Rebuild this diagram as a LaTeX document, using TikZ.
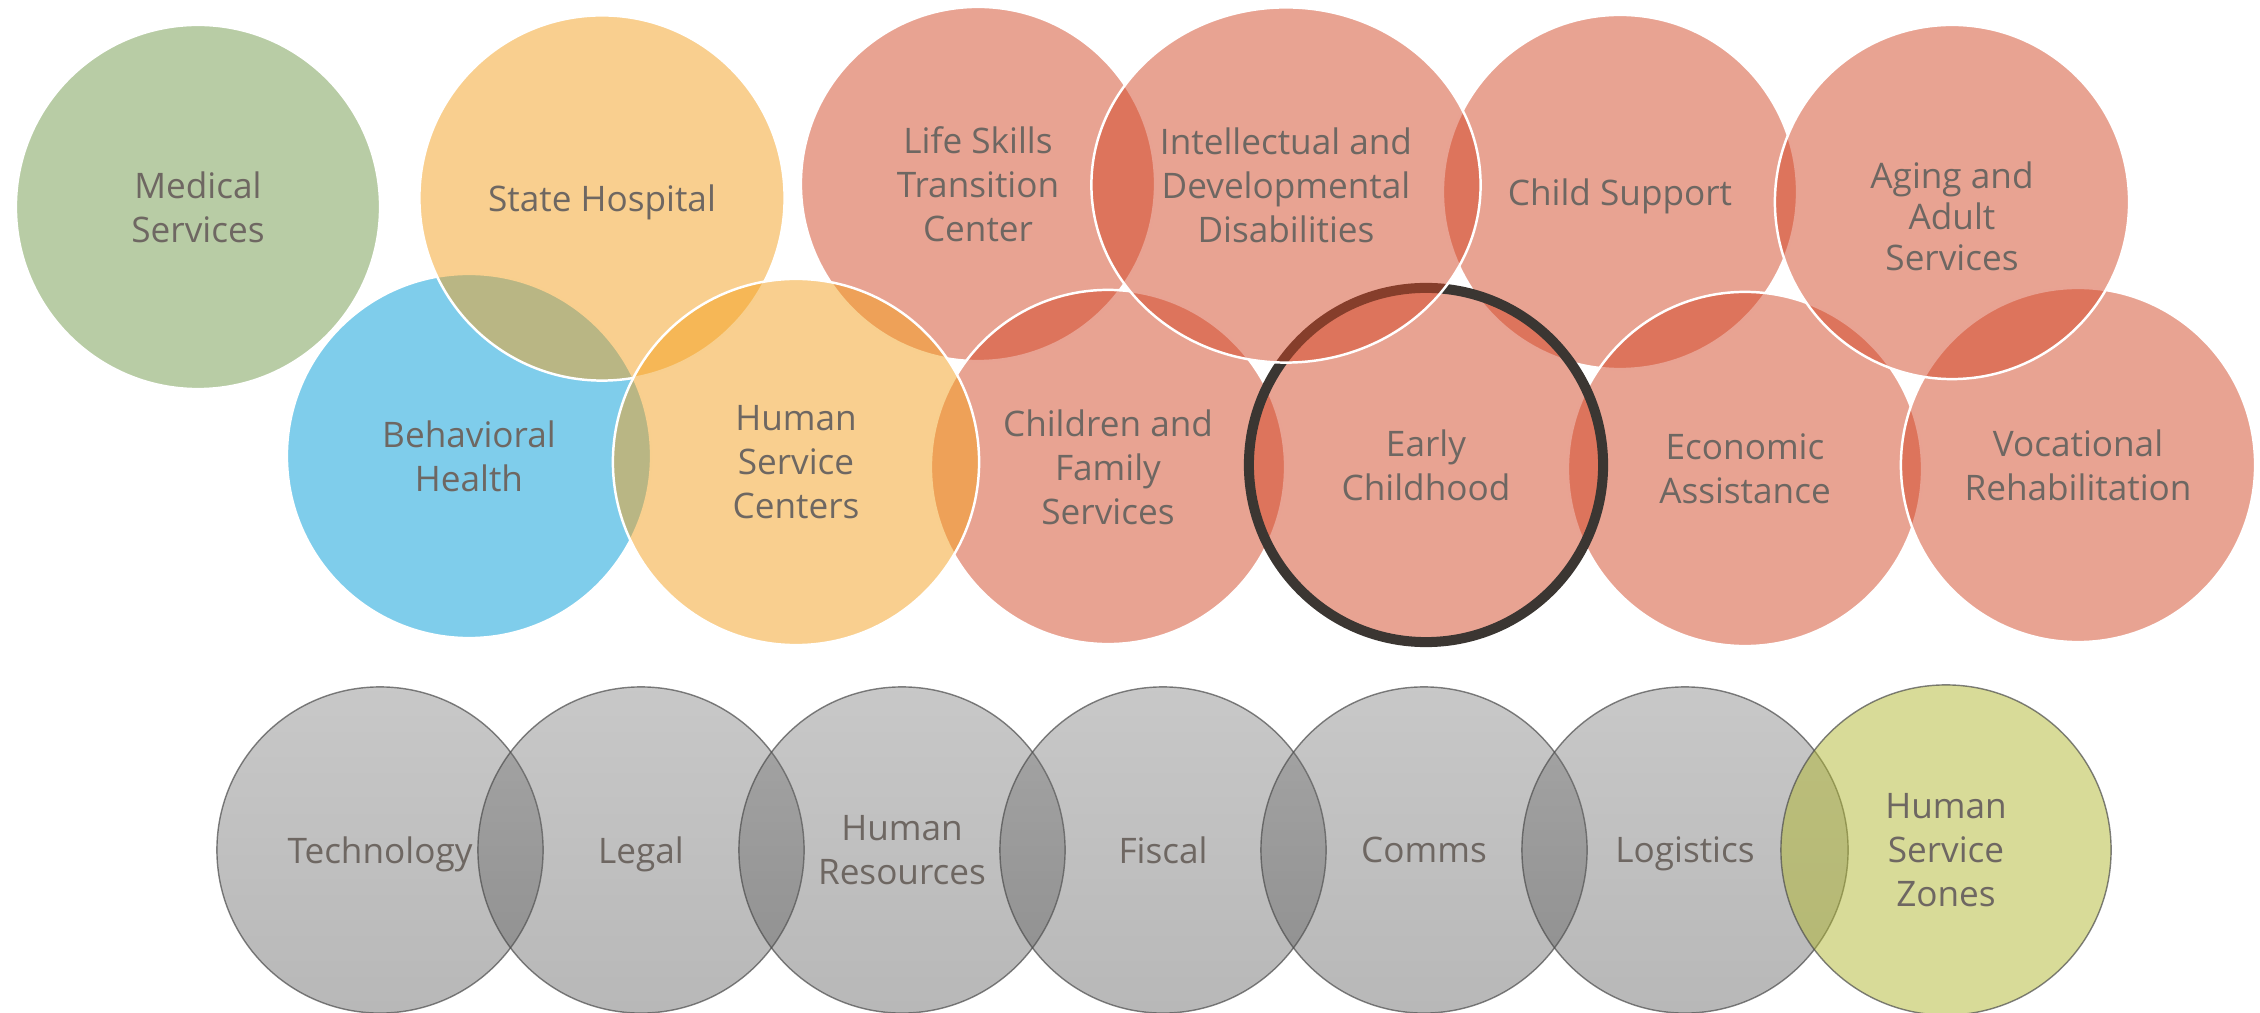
\documentclass[tikz,border=0pt]{standalone}
\usepackage{fontspec}
\setmainfont{Open Sans}
\usetikzlibrary{shapes.geometric}

\definecolor{salmon}{RGB}{210,71,38}
\definecolor{amber}{RGB}{243,160,31}
\definecolor{sky}{RGB}{0,155,215}
\definecolor{sage}{RGB}{113,153,75}
\definecolor{lime}{RGB}{177,183,49}
\definecolor{greytop}{RGB}{117,117,117}
\definecolor{greybot}{RGB}{77,77,77}
\definecolor{txtgrey}{RGB}{110,103,98}
\definecolor{ringgrey}{RGB}{59,54,50}

\begin{document}
\begin{tikzpicture}[x=0.01cm, y=-0.01cm,
	every node/.style={align=center, text=txtgrey, text opacity=1, text depth=0pt, font=\fontsize{10}{12.5}\selectfont},
	blob/.style={circle, inner sep=0pt, minimum size=3.54cm, fill opacity=0.5, draw=white, line width=0.7pt},
	unit/.style={circle, inner sep=0pt, minimum size=3.26cm, fill opacity=0.4, draw=black!70, draw opacity=0.7, line width=0.4pt},
	]
	
	\useasboundingbox (0,0) rectangle (2260,1013);
	
	% divisions
	\node[blob, fill=sage, minimum size=3.64cm] (medical) at (198,207) {Medical\\Services};
	\node[blob, fill=sky, minimum size=3.64cm] (behavioral) at (469,456) {Behavioral\\Health};
	\node[blob, fill=amber, minimum size=3.65cm] (hospital) at (602,198) {State Hospital};
	\node[blob, fill=salmon] (lifeskills) at (978,184) {Life Skills\\Transition\\Center};
	\node[blob, fill=salmon] (childsupport) at (1620,192) {Child Support};
	\node[blob, fill=salmon] (children) at (1108,467) {Children and\\Family\\Services};
	\node[blob, fill=amber, minimum size=3.66cm] (hsc) at (796,462) {Human\\Service\\Centers};
	\node[blob, fill=salmon] (economic) at (1745,469) {Economic\\Assistance};
	\node[blob, fill=salmon] (vocational) at (2078,465) {Vocational\\Rehabilitation};
	\node[blob, fill=salmon, label={[yshift=-0.14cm, font=\fontsize{10}{11.6}\selectfont]center:Aging and\\Adult\\Services}] (aging) at (1952,202) {};
	\node[blob, fill=salmon, draw=ringgrey, line width=2.85pt] (early) at (1426,465) {Early\\Childhood};
	\node[blob, ellipse, fill=salmon, minimum width=3.89cm, minimum height=3.55cm] (idd) at (1286,185) {Intellectual and\\Developmental\\Disabilities};
	
	% support units
	\node[unit, top color=greytop, bottom color=greybot] (technology) at (380,850) {Technology};
	\node[unit, top color=greytop, bottom color=greybot] (legal) at (641,850) {Legal};
	\node[unit, top color=greytop, bottom color=greybot] (hr) at (902,850) {Human\\Resources};
	\node[unit, top color=greytop, bottom color=greybot] (fiscal) at (1163,850) {Fiscal};
	\node[unit, top color=greytop, bottom color=greybot] (comms) at (1424,850) {Comms};
	\node[unit, top color=greytop, bottom color=greybot] (logistics) at (1685,850) {Logistics};
	\node[unit, fill=lime, fill opacity=0.5, minimum size=3.3cm] (zones) at (1946,850) {Human\\Service\\Zones};
	
\end{tikzpicture}
\end{document}
